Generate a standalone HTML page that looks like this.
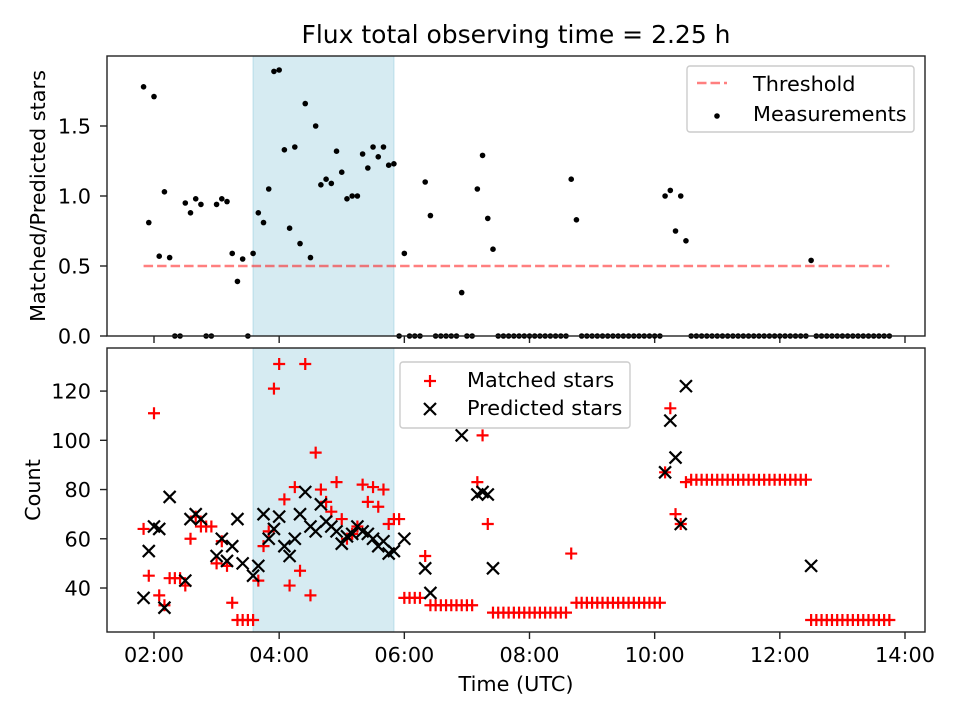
<!DOCTYPE html>
<html><head><meta charset="utf-8"><style>
html,body{margin:0;padding:0;background:#fff;}
svg{display:block;font-family:"DejaVu Sans","Liberation Sans",sans-serif;}
</style></head><body>
<svg id="chart" width="960" height="720" viewBox="0 0 960 720" xmlns="http://www.w3.org/2000/svg">
<rect width="960" height="720" fill="#fff"/>
<text x="516" y="43" font-size="25" text-anchor="middle">Flux total observing time = 2.25 h</text>
<g id="top"></g>
<g id="bot"></g>
</svg>
<script>
// ---- data ----
const startHour = 1 + 50/60;   // first sample 01:50 UTC
const cadenceMin = 5;          // sampling cadence (minutes)
const shadeStart = 3 + 35/60, shadeEnd = 5 + 50/60;
const threshold = 0.5;
const ratio = [1.78,0.81,1.71,0.57,1.03,0.56,0,0,0.95,0.88,
 0.98,0.94,0,0,0.94,0.98,0.96,0.59,0.39,0.55,
 0,0.59,0.88,0.81,1.05,1.89,1.90,1.33,0.77,1.35,
 0.66,1.66,0.56,1.50,1.08,1.12,1.09,1.32,1.17,0.98,
 1.00,1.00,1.30,1.20,1.35,1.28,1.35,1.22,1.23,0,
 0.59,0,0,0,1.10,0.86,0,0,0,0,
 0,0.31,0,0,1.05,1.29,0.84,0.62,0,0,
 0,0,0,0,0,0,0,0,0,0,
 0,0,1.12,0.83,0,0,0,0,0,0,
 0,0,0,0,0,0,0,0,0,0,
 1.00,1.04,0.75,1.00,0.68,0,0,0,0,0,
 0,0,0,0,0,0,0,0,0,0,
 0,0,0,0,0,0,0,0,0.54,0,
 0,0,0,0,0,0,0,0,0,0,
 0,0,0,0];
const matched = [64,45,111,37,33,44,44,44,41,60,
 69,65,65,65,50,59,49,34,27,27,
 27,27,43,57,63,121,131,76,41,81,
 47,131,37,95,80,75,71,83,68,60,
 62,65,82,75,81,73,80,66,68,68,
 36,36,36,36,53,33,33,33,33,33,
 33,33,33,33,83,102,66,30,30,30,
 30,30,30,30,30,30,30,30,30,30,
 30,30,54,34,34,34,34,34,34,34,
 34,34,34,34,34,34,34,34,34,34,
 87,113,70,66,83,84,84,84,84,84,
 84,84,84,84,84,84,84,84,84,84,
 84,84,84,84,84,84,84,84,27,27,
 27,27,27,27,27,27,27,27,27,27,
 27,27,27,27];
const N = null;
const predicted = [36,55,65,64,32,77,N,N,43,68,
 70,68,N,N,53,60,51,57,68,50,
 N,45,49,70,60,64,69,57,53,60,
 70,79,65,63,74,67,65,63,58,61,
 62,65,63,62,60,57,59,54,55,N,
 60,N,N,N,48,38,N,N,N,N,
 N,102,N,N,78,79,78,48,N,N,
 N,N,N,N,N,N,N,N,N,N,
 N,N,N,N,N,N,N,N,N,N,
 N,N,N,N,N,N,N,N,N,N,
 87,108,93,66,122,N,N,N,N,N,
 N,N,N,N,N,N,N,N,N,N,
 N,N,N,N,N,N,N,N,49,N,
 N,N,N,N,N,N,N,N,N,N,
 N,N,N,N];
const xTicks = [2,4,6,8,10,12,14];
const xTickLabels = ["02:00","04:00","06:00","08:00","10:00","12:00","14:00"];
const topYTicks = [0,0.5,1.0,1.5];
const topYTickLabels = ["0.0","0.5","1.0","1.5"];
const botYTicks = [40,60,80,100,120];
const botYTickLabels = ["40","60","80","100","120"];

// ---- scales ----
const L = 107, R = 925;
const FS = 20.8;
const X = h => 154 + (h - 2) * 62.583;
const T = {top:56, bottom:336, yMin:0, yMax:2.0};
const B = {top:348, bottom:632, yMin:22.13, yMax:137.5};
const Yt = v => T.bottom - (v - T.yMin) / (T.yMax - T.yMin) * (T.bottom - T.top);
const Yb = v => B.bottom - (v - B.yMin) / (B.yMax - B.yMin) * (B.bottom - B.top);
const NS = "http://www.w3.org/2000/svg";
function mk(tag, attrs, parent){ const e=document.createElementNS(NS,tag); for(const k in attrs) e.setAttribute(k,attrs[k]); parent.appendChild(e); return e; }
const times = ratio.map((_, i) => startHour + i * cadenceMin / 60);

function frame(g, P, yTicks, yLabels, Y, showXLabels, ylabel, yname){
  let r = mk('rect',{x:X(shadeStart),y:P.top,width:X(shadeEnd)-X(shadeStart),height:P.bottom-P.top,fill:'rgba(173,216,230,0.5)',stroke:'rgba(173,216,230,0.8)'},g);
  
  
  yTicks.forEach((v,i)=>{
    const y=Y(v);
    const t=mk('line',{x1:L-7,x2:L,y1:y,y2:y,stroke:'#222','stroke-width':1.4},g);
    
    
    const tx=mk('text',{x:L-16,y:y+7.5,'font-size':FS,'text-anchor':'end'},g);
    tx.textContent=yLabels[i];
    
    
  });
  xTicks.forEach((h,i)=>{
    const x=X(h);
    const t=mk('line',{x1:x,x2:x,y1:P.bottom,y2:P.bottom+7,stroke:'#222','stroke-width':1.4},g);
    
    
    if(showXLabels){
      const tx=mk('text',{x:x,y:P.bottom+30,'font-size':FS,'text-anchor':'middle'},g);
      tx.textContent=xTickLabels[i];
      
      
    }
  });
  const yl=mk('text',{x:0,y:0,'font-size':FS,'text-anchor':'middle',transform:`translate(${ylabel.x},${(P.top+P.bottom)/2}) rotate(-90)`},g);
  yl.textContent=ylabel.text;
  
  
}
function border(g,P){
  const b=mk('rect',{x:L,y:P.top,width:R-L,height:P.bottom-P.top,fill:'none',stroke:'#222','stroke-width':1.4},g);
  
  
}

// ---- top panel ----
const gt=document.getElementById('top');


frame(gt,T,topYTicks,topYTickLabels,Yt,false,{x:45,text:'Matched/Predicted stars'},'y-axis-title-ratio');
const th=mk('line',{x1:X(times[0]),x2:X(times[times.length-1]),y1:Yt(threshold),y2:Yt(threshold),stroke:'rgba(255,0,0,0.5)','stroke-width':2.5,'stroke-dasharray':'9.5,4'},gt);


ratio.forEach((v,i)=>{
  const c=mk('circle',{cx:X(times[i]),cy:Yt(v),r:2.8,fill:'#000'},gt);
  
  
});
border(gt,T);
// top legend
const lg=mk('g',{},gt);


mk('rect',{x:687,y:66,width:227,height:66,rx:3,fill:'rgba(255,255,255,0.8)',stroke:'#ccc','stroke-width':1.4},lg);
mk('line',{x1:697,x2:727,y1:83,y2:83,stroke:'rgba(255,0,0,0.5)','stroke-width':2.5,'stroke-dasharray':'9.5,4'},lg);
const lt1=mk('text',{x:753,y:91,'font-size':FS},lg); lt1.textContent='Threshold';


mk('circle',{cx:717,cy:116,r:2.8,fill:'#000'},lg);
const lt2=mk('text',{x:753,y:121,'font-size':FS},lg); lt2.textContent='Measurements';



// ---- bottom panel ----
const gb=document.getElementById('bot');


frame(gb,B,botYTicks,botYTickLabels,Yb,true,{x:40,text:'Count'},'y-axis-title-count');
function plus(g,x,y){ return mk('path',{d:`M${x-6},${y}H${x+6}M${x},${y-6}V${y+6}`,stroke:'#f00','stroke-width':2.2,fill:'none'},g); }
function cross(g,x,y){ return mk('path',{d:`M${x-6},${y-6}L${x+6},${y+6}M${x-6},${y+6}L${x+6},${y-6}`,stroke:'#000','stroke-width':2.2,fill:'none'},g); }
matched.forEach((v,i)=>{
  if(v===null) return;
  const p=plus(gb,X(times[i]),Yb(v));
  
  
});
predicted.forEach((v,i)=>{
  if(v===null) return;
  const p=cross(gb,X(times[i]),Yb(v));
  
  
});
border(gb,B);
const xl=mk('text',{x:516,y:691,'font-size':FS,'text-anchor':'middle'},gb);
xl.textContent='Time (UTC)';


const lb=mk('g',{},gb);


mk('rect',{x:400,y:362,width:230,height:66,rx:3,fill:'rgba(255,255,255,0.8)',stroke:'#ccc','stroke-width':1.4},lb);
plus(lb,430,381);
const lb1=mk('text',{x:467,y:387,'font-size':FS},lb); lb1.textContent='Matched stars';


cross(lb,430,409);
const lb2=mk('text',{x:467,y:415,'font-size':FS},lb); lb2.textContent='Predicted stars';


</script>
</body></html>
